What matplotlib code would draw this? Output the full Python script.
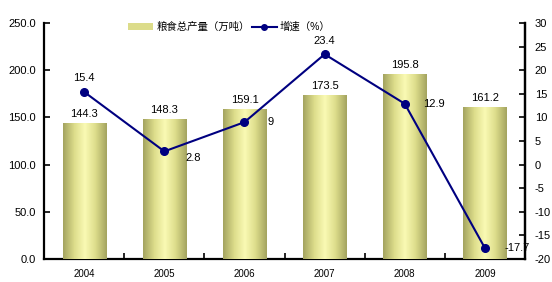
import numpy as np
import matplotlib.pyplot as plt
from matplotlib.colors import LinearSegmentedColormap
from matplotlib.lines import Line2D
from matplotlib.patches import Patch

plt.rcParams['font.family'] = ['Liberation Sans', 'Noto Sans CJK SC']
plt.rcParams['axes.unicode_minus'] = False

years = ['2004', '2005', '2006', '2007', '2008', '2009']
output = [144.3, 148.3, 159.1, 173.5, 195.8, 161.2]
growth = [15.4, 2.8, 9, 23.4, 12.9, -17.7]
growth_labels = ['15.4', '2.8', '9', '23.4', '12.9', '-17.7']


def main():
    fig = plt.figure(figsize=(5.52, 2.82), dpi=100)
    ax = fig.add_axes([0.08, 0.082, 0.871, 0.836])
    x = np.arange(len(years))

    bars = ax.bar(x, output, width=0.54, color='#e6e69a', zorder=2)
    cmap = LinearSegmentedColormap.from_list(
        'olive', ['#a4a460', '#dcdc8a', '#fafab4', '#dcdc8a', '#a4a460'])
    grad = np.linspace(0, 1, 64).reshape(1, -1)
    for b in bars:
        im = ax.imshow(grad, cmap=cmap, aspect='auto', zorder=3,
                       extent=[b.get_x(), b.get_x() + b.get_width(), 0, b.get_height()])
        im.set_clip_path(b)
    for xi, v in zip(x, output):
        ax.text(xi, v + 4, f'{v:.1f}', ha='center', va='bottom', fontsize=8, zorder=5)

    ax.set_xlim(-0.5, len(years) - 0.5)
    ax.set_ylim(0, 250)
    ax.set_yticks(np.arange(0, 251, 50))
    ax.set_yticklabels([f'{v:.1f}' for v in np.arange(0, 251, 50)], fontsize=8)
    ax.set_xticks(x)
    ax.set_xticklabels(years, fontsize=7)
    ax.set_xticks(np.arange(-0.5, len(years)), minor=True)
    ax.tick_params(axis='x', which='major', length=0, pad=7)
    ax.tick_params(axis='x', which='minor', direction='in', length=4, width=1.2)
    ax.tick_params(axis='y', direction='in', length=4, width=1.2, pad=6)
    ax.spines['top'].set_visible(False)
    for s in ['left', 'bottom', 'right']:
        ax.spines[s].set_linewidth(1.6)

    ax2 = ax.twinx()
    ax2.plot(x, growth, color='#000080', lw=1.5, marker='o', ms=5.5, zorder=4)
    ax2.set_ylim(-20, 30)
    ax2.set_yticks(np.arange(-20, 31, 5))
    ax2.tick_params(axis='y', direction='in', length=4, width=1.2, labelsize=8, pad=7)
    ax2.spines['top'].set_visible(False)
    ax2.spines['right'].set_linewidth(1.6)
    ax2.spines['left'].set_visible(False)
    ax2.spines['bottom'].set_visible(False)

    offsets = [(0, 1.8, 'center', 'bottom'), (0.36, -1.5, 'center', 'center'),
               (0.32, 0, 'center', 'center'), (0, 1.8, 'center', 'bottom'),
               (0.36, 0, 'center', 'center'), (0.4, 0, 'center', 'center')]
    for xi, v, lab, (dx, dy, ha, va) in zip(x, growth, growth_labels, offsets):
        ax2.text(xi + dx, v + dy, lab, ha=ha, va=va, fontsize=8)

    handles = [Patch(facecolor='#dcdc8a', edgecolor='none'),
               Line2D([0], [0], color='#000080', lw=1.5, marker='o', ms=4)]
    ax2.legend(handles, ['粮食总产量（万吨）', '增速（%）'], loc='upper left',
               bbox_to_anchor=(0.155, 1.045), ncol=2, frameon=False, fontsize=7.5,
               handlelength=2.4, handleheight=0.6, columnspacing=0.2, handletextpad=0.3)

    fig.savefig('out.png', dpi=100)


main()
